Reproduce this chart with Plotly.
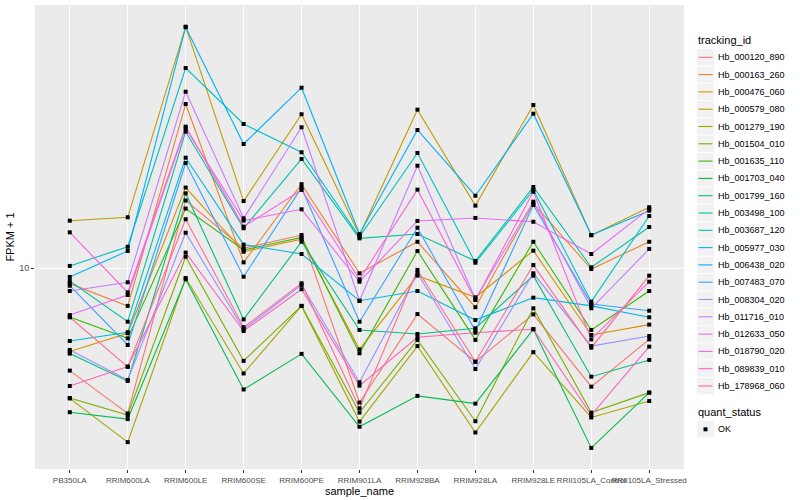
import plotly.graph_objects as go

samples = ["PB350LA", "RRIM600LA", "RRIM600LE", "RRIM600SE", "RRIM600PE",
           "RRIM901LA", "RRIM928BA", "RRIM928LA", "RRIM928LE",
           "RRII105LA_Control", "RRII105LA_Stressed"]

tracking_ids = ["Hb_000120_890", "Hb_000163_260", "Hb_000476_060", "Hb_000579_080",
                "Hb_001279_190", "Hb_001504_010", "Hb_001635_110", "Hb_001703_040",
                "Hb_001799_160", "Hb_003498_100", "Hb_003687_120", "Hb_005977_030",
                "Hb_006438_020", "Hb_007483_070", "Hb_008304_020", "Hb_011716_010",
                "Hb_012633_050", "Hb_018790_020", "Hb_089839_010", "Hb_178968_060"]

colors = ["#F8766D", "#EA8331", "#D89000", "#C09B00", "#A3A500", "#7CAE00", "#39B600",
          "#00BB4E", "#00BF7D", "#00C1A3", "#00BFC4", "#00BAE0", "#00B0F6", "#35A2FF",
          "#9590FF", "#C77CFF", "#E76BF3", "#FA62DB", "#FF62BC", "#FF6C91"]

quant_status = ["OK"]

# FPKM + 1 per sample (order of `samples`)
hb_000120_890 = [5.54, 4.33, 14.75, 11.20, 12.09, 4.61, 7.67, 5.83, 7.66, 5.05, 6.63]
hb_000163_260 = [9.14, 8.04, 25.7, 10.33, 16.2, 9.70, 11.63, 7.98, 14.51, 9.94, 11.63]
hb_000476_060 = [6.18, 6.87, 15.89, 10.98, 11.80, 6.26, 9.57, 8.45, 11.05, 6.80, 7.22]
hb_000579_080 = [13.13, 13.39, 40.11, 14.70, 24.23, 12.09, 24.88, 14.32, 25.56, 12.07, 14.19]
hb_001279_190 = [4.72, 3.67, 9.44, 5.45, 8.04, 4.13, 6.38, 3.88, 6.16, 4.23, 4.65]
hb_001504_010 = [4.73, 4.29, 10.67, 5.86, 8.04, 4.35, 6.61, 4.14, 7.93, 4.35, 4.88]
hb_001635_110 = [7.54, 6.67, 14.08, 11.09, 11.93, 6.12, 11.03, 6.61, 11.63, 7.00, 8.76]
hb_001703_040 = [4.36, 4.19, 9.37, 4.97, 6.10, 4.01, 4.79, 4.58, 7.03, 3.55, 4.88]
hb_001799_160 = [6.11, 5.22, 15.37, 7.44, 11.63, 7.00, 6.84, 7.07, 9.57, 5.35, 5.89]
hb_003498_100 = [9.28, 7.34, 21.92, 12.57, 18.73, 11.86, 12.16, 10.41, 15.94, 10.04, 12.66]
hb_003687_120 = [10.12, 11.30, 31.62, 22.91, 19.47, 11.97, 19.39, 10.31, 15.67, 8.24, 13.49]
hb_005977_030 = [6.57, 6.91, 18.87, 11.44, 10.84, 8.28, 8.76, 7.41, 8.43, 8.04, 7.53]
hb_006438_020 = [9.50, 11.03, 40.0, 20.42, 28.23, 12.16, 22.13, 15.16, 24.31, 12.09, 13.91]
hb_007483_070 = [9.03, 6.42, 18.30, 9.51, 15.88, 7.34, 12.61, 6.97, 14.37, 8.13, 7.82]
hb_008304_020 = [6.24, 5.25, 12.25, 7.03, 9.07, 5.18, 9.70, 5.59, 9.70, 6.38, 6.76]
hb_011716_010 = [8.76, 9.21, 27.59, 13.31, 22.48, 8.28, 18.02, 8.35, 14.65, 7.93, 11.16]
hb_012633_050 = [7.63, 8.56, 22.35, 13.14, 14.02, 9.24, 13.11, 13.34, 13.05, 10.84, 14.05]
hb_018790_020 = [12.28, 8.69, 22.56, 12.69, 15.67, 9.37, 15.70, 8.32, 15.51, 6.63, 9.24]
hb_089839_010 = [5.07, 5.67, 10.93, 6.96, 8.85, 5.08, 6.71, 6.89, 7.03, 4.29, 6.36]
hb_178968_060 = [7.53, 5.66, 13.24, 7.11, 9.16, 4.46, 9.89, 5.83, 10.17, 6.32, 9.57]

series = [hb_000120_890, hb_000163_260, hb_000476_060, hb_000579_080, hb_001279_190,
          hb_001504_010, hb_001635_110, hb_001703_040, hb_001799_160, hb_003498_100,
          hb_003687_120, hb_005977_030, hb_006438_020, hb_007483_070, hb_008304_020,
          hb_011716_010, hb_012633_050, hb_018790_020, hb_089839_010, hb_178968_060]

# ---- layout geometry (pixels) ----
W, H = 800, 500
PL, PR, PT, PB = 35, 684, 5, 469


def px_x(x):
    return (x - PL) / (PR - PL)


def px_y(y):
    return 1 - (y - PT) / (PB - PT)


fig = go.Figure()
for tid, col, vals in zip(tracking_ids, colors, series):
    fig.add_trace(go.Scatter(
        x=samples, y=vals, mode="lines", name=tid,
        line=dict(color=col, width=1.1), hoverinfo="skip",
    ))

all_x = [s for vals in series for s in samples]
all_y = [v for vals in series for v in vals]
fig.add_trace(go.Scatter(
    x=all_x, y=all_y, mode="markers", name=quant_status[0],
    marker=dict(symbol="square", size=4, color="#000000"),
))

# ---- ggplot-like legend drawn with shapes and text ----
shapes = []
annotations = []
LEG_X0, KEY_W, KEY_H = 697, 17, 17.3
TEXT_X = 716
first_center = 57.3
annotations.append(dict(text="tracking_id", x=px_x(696), y=px_y(40.5), xref="paper", yref="paper",
                        xanchor="left", yanchor="middle", showarrow=False,
                        font=dict(size=11, color="#000000")))
for i, (tid, col) in enumerate(zip(tracking_ids, colors)):
    cy = first_center + i * KEY_H
    shapes.append(dict(type="rect", xref="paper", yref="paper",
                       x0=px_x(LEG_X0), x1=px_x(LEG_X0 + KEY_W),
                       y0=px_y(cy + KEY_H / 2 - 0.5), y1=px_y(cy - KEY_H / 2 + 0.5),
                       fillcolor="#F2F2F2", line=dict(width=0), layer="above"))
    shapes.append(dict(type="line", xref="paper", yref="paper",
                       x0=px_x(LEG_X0 + 1.5), x1=px_x(LEG_X0 + KEY_W - 1.5),
                       y0=px_y(cy), y1=px_y(cy),
                       line=dict(color=col, width=1.1), layer="above"))
    annotations.append(dict(text=tid, x=px_x(TEXT_X), y=px_y(cy), xref="paper", yref="paper",
                            xanchor="left", yanchor="middle", showarrow=False,
                            font=dict(size=9, color="#000000")))

annotations.append(dict(text="quant_status", x=px_x(696), y=px_y(411.5), xref="paper", yref="paper",
                        xanchor="left", yanchor="middle", showarrow=False,
                        font=dict(size=11, color="#000000")))
ok_cy = 429.3
shapes.append(dict(type="rect", xref="paper", yref="paper",
                   x0=px_x(LEG_X0), x1=px_x(LEG_X0 + KEY_W),
                   y0=px_y(ok_cy + KEY_H / 2 - 0.5), y1=px_y(ok_cy - KEY_H / 2 + 0.5),
                   fillcolor="#F2F2F2", line=dict(width=0), layer="above"))
shapes.append(dict(type="rect", xref="paper", yref="paper",
                   x0=px_x(LEG_X0 + KEY_W / 2 - 2), x1=px_x(LEG_X0 + KEY_W / 2 + 2),
                   y0=px_y(ok_cy + 2), y1=px_y(ok_cy - 2),
                   fillcolor="#000000", line=dict(width=0), layer="above"))
annotations.append(dict(text=quant_status[0], x=px_x(TEXT_X), y=px_y(ok_cy), xref="paper", yref="paper",
                        xanchor="left", yanchor="middle", showarrow=False,
                        font=dict(size=9, color="#000000")))

fig.update_layout(
    width=W, height=H,
    margin=dict(l=PL, r=W - PR, t=PT, b=H - PB, autoexpand=False),
    paper_bgcolor="#FFFFFF", plot_bgcolor="#EBEBEB",
    font=dict(family="Liberation Sans, Arial, sans-serif", size=9, color="#000000"),
    showlegend=False,
    shapes=shapes, annotations=annotations,
    xaxis=dict(
        type="category", range=[-0.6, 10.6],
        showgrid=True, gridcolor="#FFFFFF", gridwidth=1,
        ticks="outside", ticklen=3, tickcolor="#333333", tickwidth=1,
        tickangle=0, automargin=False,
        tickfont=dict(family="Liberation Sans Narrow, Liberation Sans, Arial", size=8, color="#4D4D4D"),
        title=dict(text="sample_name", standoff=0,
                   font=dict(family="Liberation Sans Narrow, Liberation Sans, Arial", size=11, color="#000000")),
        showline=False, zeroline=False,
    ),
    yaxis=dict(
        type="log", range=[0.4975, 1.6575],
        tickvals=[10], ticktext=["10"],
        showgrid=True, gridcolor="#FFFFFF", gridwidth=1,
        ticks="outside", ticklen=3, tickcolor="#333333", tickwidth=1,
        automargin=False,
        tickfont=dict(size=9, color="#4D4D4D"),
        title=dict(text="FPKM + 1", standoff=2, font=dict(size=11, color="#000000")),
        showline=False, zeroline=False,
    ),
)

fig.write_html("out.html", config={"displayModeBar": False},
               post_script="document.body.style.margin='0px';")
